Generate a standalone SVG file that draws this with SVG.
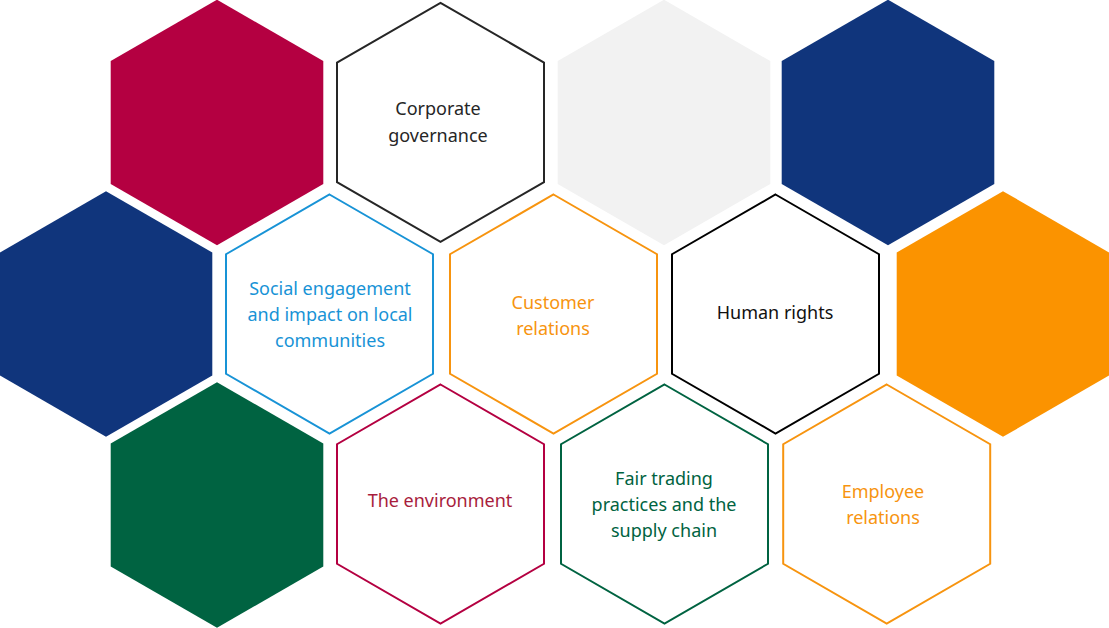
<svg xmlns="http://www.w3.org/2000/svg" width="1109" height="628" viewBox="0 0 1109 628">
<defs>
<style>
text{font-family:"Noto Sans","Open Sans","Liberation Sans",sans-serif;font-size:18px;text-anchor:middle}
.o{fill:#fff;stroke-width:2}
</style>
<polygon id="hf" points="0,-122.8 106.3,-61.4 106.3,61.4 0,122.8 -106.3,61.4 -106.3,-61.4"/>
<polygon id="ho" points="0,-119.5 103.5,-59.75 103.5,59.75 0,119.5 -103.5,59.75 -103.5,-59.75"/>
</defs>
<rect width="1109" height="628" fill="#fff"/>
<g id="hex-crimson"><use href="#hf" x="217" y="122.5" fill="#b40041"/></g>
<g id="corporate-governance"><use href="#ho" x="440.5" y="122.3" class="o" stroke="#262626"/>
<text x="438" y="115" fill="#262626">Corporate</text><text x="438" y="141.5" fill="#262626">governance</text></g>
<g id="hex-gray"><use href="#hf" x="664" y="122.5" fill="#f2f2f2"/></g>
<g id="hex-navy-top"><use href="#hf" x="888" y="122.5" fill="#10357c"/></g>
<g id="hex-navy-left"><use href="#hf" x="106" y="314" fill="#10357c"/></g>
<g id="social-engagement"><use href="#ho" x="329.5" y="314" class="o" stroke="#1893d6"/>
<text x="330" y="294.5" fill="#1893d6">Social engagement</text><text x="330" y="321" fill="#1893d6">and impact on local</text><text x="330" y="347" fill="#1893d6">communities</text></g>
<g id="customer-relations"><use href="#ho" x="553.5" y="314" class="o" stroke="#f7940f"/>
<text x="553" y="308.5" fill="#f7940f">Customer</text><text x="553" y="335" fill="#f7940f">relations</text></g>
<g id="human-rights"><use href="#ho" x="775.5" y="314" class="o" stroke="#000"/>
<text x="775" y="318.5" fill="#111">Human rights</text></g>
<g id="hex-orange"><use href="#hf" x="1003" y="314" fill="#fb9300"/></g>
<g id="hex-green"><use href="#hf" x="217" y="505" fill="#006341"/></g>
<g id="the-environment"><use href="#ho" x="440.5" y="504" class="o" stroke="#b40041"/>
<text x="440" y="506.5" fill="#a81d3c">The environment</text></g>
<g id="fair-trading"><use href="#ho" x="664.5" y="504" class="o" stroke="#006341"/>
<text x="664" y="484.5" fill="#006341">Fair trading</text><text x="664" y="511" fill="#006341">practices and the</text><text x="664" y="537" fill="#006341">supply chain</text></g>
<g id="employee-relations"><use href="#ho" x="886.7" y="504" class="o" stroke="#f7940f"/>
<text x="883" y="497.5" fill="#f7940f">Employee</text><text x="883" y="524" fill="#f7940f">relations</text></g>
<g id="connectors"></g>
</svg>
